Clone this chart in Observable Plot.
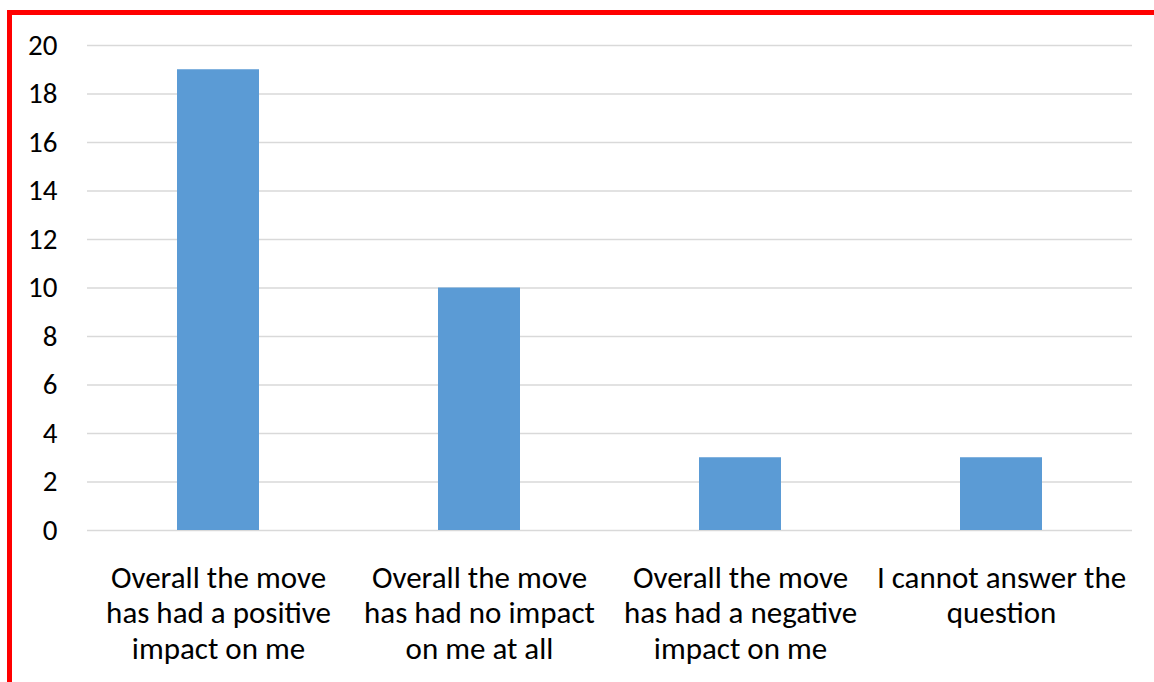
<!DOCTYPE html>
<html>
<head>
<meta charset="utf-8">
<script src="https://cdn.jsdelivr.net/npm/d3@7"></script>
<script src="https://cdn.jsdelivr.net/npm/@observablehq/plot@0.6"></script>
<style>
  html, body { margin: 0; padding: 0; background: #fff; overflow: hidden; width: 1154px; height: 682px; }
  #frame { position: absolute; left: 7px; top: 10px; width: 1170px; height: 700px; border: 5px solid #ff0000; box-sizing: border-box; }
  #chart { position: absolute; left: 0; top: 0; }
  #chart svg { background: transparent; }
</style>
</head>
<body>
<div id="frame"></div>
<div id="chart"></div>
<script>
const categories = [
  "Overall the move has had a positive impact on me",
  "Overall the move has had no impact on me at all",
  "Overall the move has had a negative impact on me",
  "I cannot answer the question"
];
const labelLines = [
  "Overall the move\nhas had a positive\nimpact on me",
  "Overall the move\nhas had no impact\non me at all",
  "Overall the move\nhas had a negative\nimpact on me",
  "I cannot answer the\nquestion"
];
const values = [19, 10, 3, 3];
const yTicks = [0, 2, 4, 6, 8, 10, 12, 14, 16, 18, 20];

const data = categories.map((c, i) => ({category: c, value: values[i]}));
const labelFor = new Map(categories.map((c, i) => [c, labelLines[i]]));

const fontFamily = "Carlito, Lato, 'Open Sans', sans-serif";

const chart = Plot.plot({
  width: 1154,
  height: 682,
  marginLeft: 87,
  marginRight: 22,
  marginTop: 45,
  marginBottom: 152,
  style: { fontFamily, fontSize: "31px", color: "#000", background: "transparent" },
  x: { domain: categories, paddingInner: 0.685, paddingOuter: 0.3425, label: null },
  y: { domain: [0, 20], label: null },
  marks: [
    Plot.gridY(yTicks, { stroke: "#d9d9d9", strokeOpacity: 1, strokeWidth: 1.5 }),
    Plot.barY(data, { x: "category", y: "value", fill: "#5b9bd5" }),
    Plot.axisY(yTicks, { tickSize: 0, tickPadding: 30, fontSize: 29, label: null }),
    Plot.axisX({ tickSize: 0, tickPadding: 32, fontSize: 31, lineHeight: 1.145, tickFormat: d => labelFor.get(d), label: null })
  ]
});
document.getElementById("chart").appendChild(chart);
</script>
</body>
</html>
